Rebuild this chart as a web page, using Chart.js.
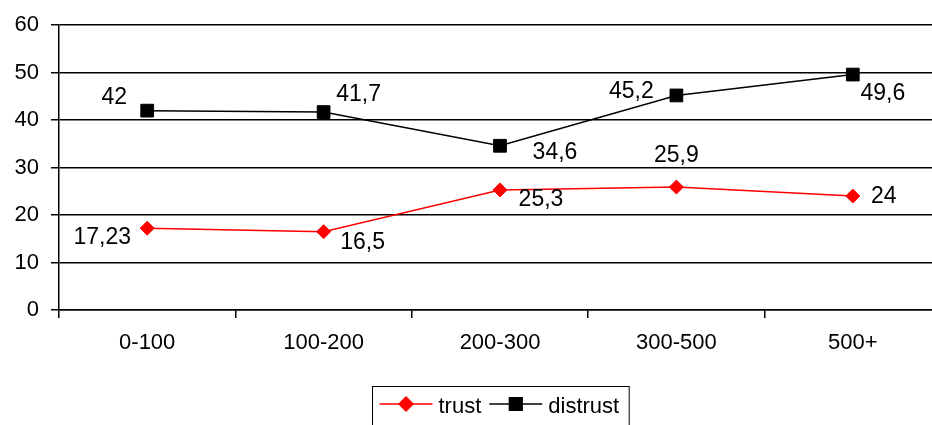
<!DOCTYPE html>
<html>
<head>
<meta charset="utf-8">
<script src="https://cdn.jsdelivr.net/npm/chart.js@4/dist/chart.umd.min.js"></script>
<style>
  html, body { margin: 0; padding: 0; background: #fff; overflow: hidden; }
  body { width: 932px; height: 425px; }
  canvas { display: block; }
</style>
</head>
<body>
<canvas id="chart" width="1000" height="425"></canvas>
<script>
// Income brackets along the x axis
const categories = ['0-100', '100-200', '200-300', '300-500', '500+'];

// Share of respondents (%)
const trustValues = [17.23, 16.5, 25.3, 25.9, 24];
const distrustValues = [42, 41.7, 34.6, 45.2, 49.6];

// Value axis ticks
const yTicks = [0, 10, 20, 30, 40, 50, 60];

const FONT = '"Liberation Sans", Arial, sans-serif';
const LABEL_SIZE = 23;

// Where each value label sits relative to its point (px)
const labelOffsets = {
  trust:    [[-45, 8], [39, 9], [41, 8], [0, -33], [31, -1.5]],
  distrust: [[-33, -15], [35, -19], [55, 5.5], [-45, -6], [30, 17.5]]
};

const fmt = v => String(v).replace('.', ',');

// Value labels next to every point
const valueLabels = {
  id: 'valueLabels',
  afterDatasetsDraw(chart) {
    const ctx = chart.ctx;
    ctx.save();
    ctx.font = LABEL_SIZE + 'px ' + FONT;
    ctx.fillStyle = '#000';
    ctx.textAlign = 'center';
    ctx.textBaseline = 'alphabetic';
    chart.data.datasets.forEach((ds, i) => {
      const meta = chart.getDatasetMeta(i);
      const offs = labelOffsets[ds.key];
      meta.data.forEach((pt, j) => {
        const [dx, dy] = offs[j];
        ctx.fillText(fmt(ds.data[j]), pt.x + dx, pt.y + dy + LABEL_SIZE * 0.358);
      });
    });
    ctx.restore();
  }
};

// Boxed legend under the axis: line + marker, then the series name
const boxedLegend = {
  id: 'boxedLegend',
  afterDraw(chart) {
    const ctx = chart.ctx;
    const area = chart.chartArea;
    ctx.save();
    ctx.font = '22px ' + FONT;
    const lineLen = 53, pad = 7, gap = 6, itemGap = 8, endPad = 10;
    const items = chart.data.datasets.map(ds => ({ ds, w: ctx.measureText(ds.label).width }));
    let total = pad + endPad;
    items.forEach((it, k) => {
      total += lineLen + gap + it.w + (k < items.length - 1 ? itemGap : 0);
    });
    const cx = (area.left + area.right) / 2;
    const left = Math.round(cx - total / 2) + 0.5;
    const top = 386.5;
    ctx.strokeStyle = '#000';
    ctx.lineWidth = 1;
    ctx.strokeRect(left, top, total, 42);
    const midY = 404;
    let x = left + pad;
    items.forEach(it => {
      const ds = it.ds;
      ctx.strokeStyle = ds.borderColor;
      ctx.lineWidth = ds.borderWidth;
      ctx.beginPath();
      ctx.moveTo(x, midY);
      ctx.lineTo(x + lineLen, midY);
      ctx.stroke();
      ctx.fillStyle = ds.pointBackgroundColor;
      ctx.strokeStyle = ds.pointBorderColor;
      ctx.beginPath();
      Chart.helpers.drawPoint(ctx, {
        pointStyle: ds.pointStyle,
        radius: ds.pointRadius,
        borderWidth: 1,
        rotation: 0
      }, x + lineLen / 2, midY);
      ctx.fillStyle = '#000';
      ctx.textAlign = 'left';
      ctx.textBaseline = 'alphabetic';
      ctx.fillText(ds.label, x + lineLen + gap, midY + 9);
      x += lineLen + gap + it.w + itemGap;
    });
    ctx.restore();
  }
};

new Chart(document.getElementById('chart'), {
  type: 'line',
  data: {
    labels: categories,
    datasets: [
      {
        key: 'trust',
        label: 'trust',
        data: trustValues,
        borderColor: '#ff0000',
        backgroundColor: '#ff0000',
        pointBackgroundColor: '#ff0000',
        pointBorderColor: '#ff0000',
        borderWidth: 1.5,
        pointStyle: 'rectRot',
        pointRadius: 7,
        pointBorderWidth: 1,
        tension: 0
      },
      {
        key: 'distrust',
        label: 'distrust',
        data: distrustValues,
        borderColor: '#000000',
        backgroundColor: '#000000',
        pointBackgroundColor: '#000000',
        pointBorderColor: '#000000',
        borderWidth: 1.5,
        pointStyle: 'rect',
        pointRadius: 9,
        pointBorderWidth: 1,
        tension: 0
      }
    ]
  },
  options: {
    responsive: false,
    animation: false,
    devicePixelRatio: 1,
    layout: { padding: { left: 0, right: 59, top: 24, bottom: 0 } },
    plugins: {
      legend: { display: false },
      tooltip: { enabled: false }
    },
    scales: {
      x: {
        offset: true,
        grid: {
          offset: true,
          drawOnChartArea: false,
          drawTicks: true,
          tickLength: 8,
          lineWidth: 1.5,
          color: '#000'
        },
        border: { display: true, color: '#000', width: 1.5 },
        ticks: {
          color: '#000',
          font: { family: FONT, size: 22 },
          padding: 12,
          maxRotation: 0
        },
        afterFit(scale) { scale.height = 115; }
      },
      y: {
        min: 0,
        max: 60,
        afterBuildTicks(scale) { scale.ticks = yTicks.map(v => ({ value: v })); },
        grid: { color: '#000', tickLength: 8, lineWidth: 1.5 },
        border: { display: true, color: '#000', width: 1.5 },
        ticks: {
          color: '#000',
          font: { family: FONT, size: 22 },
          padding: 12
        },
        afterFit(scale) { scale.width = 59; }
      }
    }
  },
  plugins: [valueLabels, boxedLegend]
});
</script>
</body>
</html>
